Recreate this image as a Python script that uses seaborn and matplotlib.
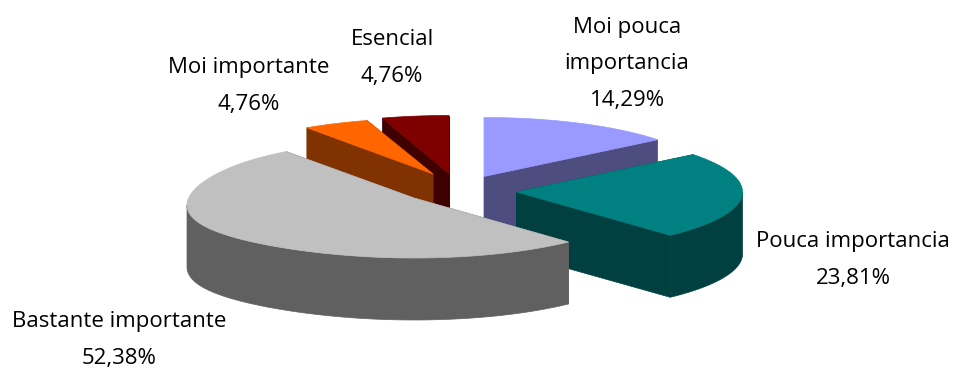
import numpy as np
import matplotlib
matplotlib.use("Agg")
import matplotlib.pyplot as plt
import seaborn as sns
from matplotlib.patches import Polygon

# --- data -------------------------------------------------------------
categories = ["Moi pouca\nimportancia", "Pouca importancia", "Bastante importante",
              "Moi importante", "Esencial"]
values = [14.29, 23.81, 52.38, 4.76, 4.76]
value_labels = ["14,29%", "23,81%", "52,38%", "4,76%", "4,76%"]

# --- style ------------------------------------------------------------
top_colors = ["#9999FF", "#008080", "#C0C0C0", "#FF6600", "#800000"]
side_colors = ["#4D4D80", "#004040", "#606060", "#803300", "#400000"]
centres = [(484, 176.5), (516.5, 192), (414, 198), (433, 174), (449, 173.5)]
rx_all = [222, 226, 227, 224, 226]
ry_back = [59, 60, 57, 56, 58]
ry_front = [59, 59, 60, 56, 58]
tilt = [0, 0, 7, 0, 0]
label_pos = [(627, 64), (853, 260), (119, 340), (249, 86), (392, 58)]
DEPTH = 62

sns.set_theme(style="white")
plt.rcParams["font.family"] = ["Open Sans", "DejaVu Sans"]

fig = plt.figure(figsize=(9.55, 3.70), dpi=100)
ax = fig.add_axes([0, 0, 1, 1])
ax.set_xlim(0, 955)
ax.set_ylim(370, 0)
ax.axis("off")

fractions = np.array(values) / sum(values)
ends = np.cumsum(fractions) * 2 * np.pi
starts = ends - fractions * 2 * np.pi


def arc(i, a0, a1, n=160):
    cx, cy = centres[i]
    t = np.linspace(a0, a1, n)
    s, c = np.sin(t), np.cos(t)
    ry = np.where(c > 0, ry_back[i], ry_front[i])
    lift = tilt[i] * np.where(s < 0, s ** 4, 0)
    return np.c_[cx + rx_all[i] * s, cy - ry * c + lift]


def draw_slice(i):
    cx, cy = centres[i]
    a0, a1 = starts[i], ends[i]
    apex = np.array([[cx, cy]])
    down = np.array([0, DEPTH])
    rim = arc(i, a0, a1)
    side = side_colors[i]
    # cut faces
    for edge in (rim[0], rim[-1]):
        quad = np.array([apex[0], edge, edge + down, apex[0] + down])
        ax.add_patch(Polygon(quad, closed=True, fc=side, ec=side, lw=0.5))
    # outer wall (only the part facing the viewer)
    lo, hi = max(a0, np.pi / 2), min(a1, 3 * np.pi / 2)
    if lo < hi:
        wall = arc(i, lo, hi)
        ax.add_patch(Polygon(np.r_[wall, (wall + down)[::-1]], closed=True,
                             fc=side, ec=side, lw=0.5))
    # top
    ax.add_patch(Polygon(np.r_[apex, rim], closed=True, fc=top_colors[i],
                         ec=top_colors[i], lw=0.5))


for i in [4, 3, 0, 1, 2]:
    draw_slice(i)

for name, val, (x, y) in zip(categories, value_labels, label_pos):
    ax.text(x, y, f"{name}\n{val}", ha="center", va="center", fontsize=16,
            color="black", linespacing=1.97)

fig.savefig("out.png", dpi=100)
